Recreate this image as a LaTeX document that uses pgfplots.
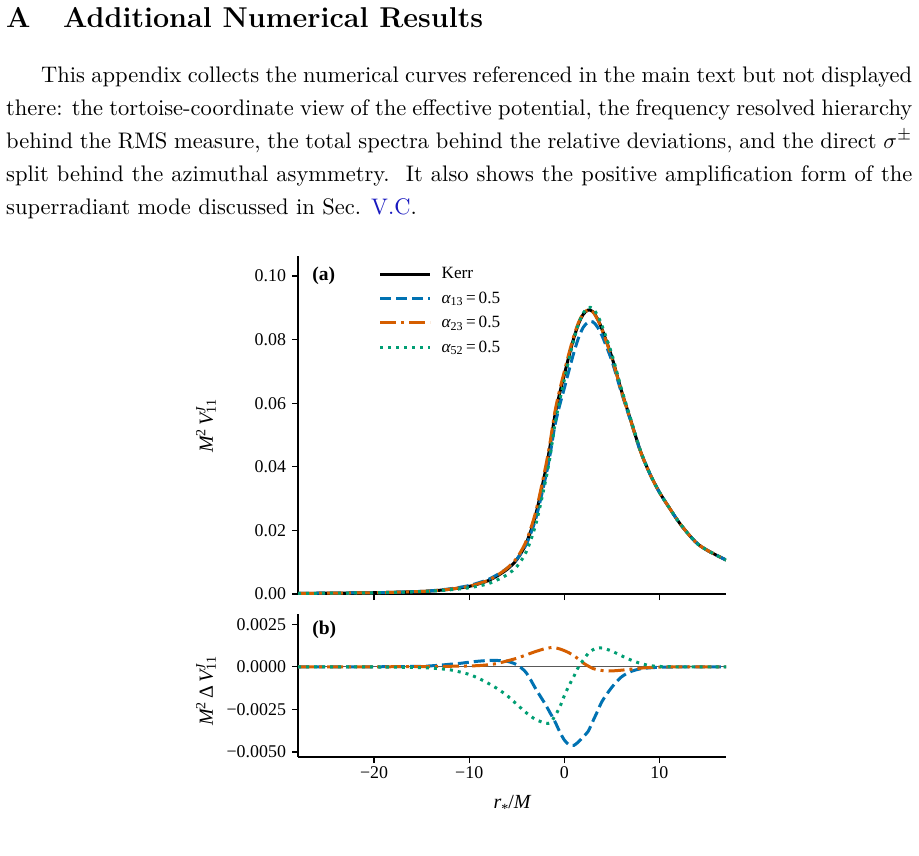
\documentclass[border=0pt]{standalone}
\usepackage{fontspec}
\usepackage{graphicx}
\usepackage{xcolor}
\usepackage{pgfplots}
\usepackage{pgfplotstable}
\pgfplotsset{compat=1.18}
\newfontfamily\tnr{Liberation Serif}
\definecolor{cbblue}{HTML}{0072B2}
\definecolor{cborange}{HTML}{D55E00}
\definecolor{cbgreen}{HTML}{009E73}
\definecolor{linkblue}{rgb}{0.1,0.1,0.75}

\pgfplotstableread{
x     kerr    a13      a23      a52
-28   0.0002  0.0002   0.0002   0.0002
-20   0.0004  0.0004   0.0004   0.00039
-15   0.0008  0.00083  0.00081  0.00075
-13   0.0012  0.0013   0.00122  0.00108
-12   0.0015  0.00165  0.00153  0.00132
-11   0.0019  0.0021   0.00194  0.0016
-10   0.0024  0.00267  0.00245  0.00195
-9    0.0032  0.00353  0.00327  0.00252
-8    0.0042  0.00457  0.00432  0.00323
-7    0.0058  0.00617  0.0060   0.0045
-6    0.0078  0.00812  0.00815  0.0061
-5    0.0108  0.01092  0.0113   0.0086
-4    0.0160  0.01565  0.0167   0.0133
-3    0.0250  0.0237   0.0259   0.0219
-2    0.0385  0.0363   0.03957  0.0352
-1.5  0.0465  0.0438   0.04762  0.0432
-1    0.0560  0.0528   0.05712  0.0531
-0.5  0.0630  0.0592   0.06405  0.0606
0     0.0690  0.0647   0.06995  0.0673
0.5   0.0750  0.07042  0.07582  0.0739
1     0.0805  0.07588  0.08115  0.07993
1.5   0.0850  0.0806   0.08545  0.0850
2     0.0880  0.0839   0.08822  0.0884
2.5   0.0893  0.0855   0.08935  0.09008
3     0.0888  0.0856   0.0887   0.0898
3.5   0.0865  0.0839   0.08633  0.0876
4     0.0830  0.0810   0.08278  0.0841
5     0.0745  0.0733   0.07426  0.07542
6     0.0640  0.0634   0.0638   0.06465
7     0.0545  0.05422  0.05436  0.0549
8     0.0450  0.04488  0.04492  0.0452
9     0.0378  0.03774  0.03776  0.03787
10    0.0320  0.03197  0.03198  0.03202
11    0.0273  0.02728  0.02729  0.02731
12    0.0228  0.02279  0.0228   0.0228
13    0.0190  0.0190   0.0190   0.0190
14    0.0158  0.0158   0.0158   0.0158
15    0.0138  0.0138   0.0138   0.0138
16    0.0122  0.0122   0.0122   0.0122
17    0.0107  0.0107   0.0107   0.0107
}\pot

\pgfplotstableread{
x     d13       d23       d52
-28   0         0         0
-20   0         0         -0.00001
-15   0.00003   0.00001   -0.00005
-13   0.0001    0.00002   -0.00012
-12   0.00015   0.00003   -0.00018
-11   0.0002    0.00004   -0.0003
-10   0.00027   0.00005   -0.00045
-9    0.00033   0.00007   -0.00068
-8    0.00037   0.00012   -0.00097
-7    0.00037   0.0002    -0.0013
-6    0.00032   0.00035   -0.0017
-5    0.00012   0.0005    -0.0022
-4    -0.00035  0.0007    -0.0027
-3    -0.0013   0.0009    -0.0031
-2    -0.0022   0.00107   -0.0033
-1.5  -0.0027   0.00112   -0.0033
-1    -0.0032   0.00112   -0.0029
-0.5  -0.0038   0.00105   -0.0024
0     -0.0043   0.00095   -0.0017
0.5   -0.00458  0.00082   -0.0011
1     -0.00462  0.00065   -0.00057
1.5   -0.0044   0.00045   0
2     -0.0041   0.00022   0.0004
2.5   -0.0038   0.00005   0.00078
3     -0.0032   -0.0001   0.001
3.5   -0.0026   -0.00017  0.0011
4     -0.0020   -0.00022  0.0011
5     -0.0012   -0.00024  0.00092
6     -0.0006   -0.0002   0.00065
7     -0.00028  -0.00014  0.0004
8     -0.00012  -0.00008  0.0002
9     -0.00006  -0.00004  0.00007
10    -0.00003  -0.00002  0.00002
11    -0.00002  -0.00001  0.00001
12    -0.00001  0         0
14    0         0         0
17    0         0         0
}\dev

\newcommand{\tickfont}{\tnr\fontsize{17.9}{20}\selectfont}
\newcommand{\legfont}{\tnr\fontsize{17.2}{20}\selectfont}
\newcommand{\labfont}{\tnr\fontsize{20}{22}\selectfont}

\pgfplotsset{
  myax/.style={
    scale only axis, width=428pt,
    xmin=-28, xmax=17,
    axis x line*=bottom, axis y line*=left,
    axis line style={line width=1.5pt, -},
    tick align=outside, major tick length=6pt,
    tick style={line width=1.3pt, black},
    tick label style={font=\tickfont},
    yticklabel style={xshift=-2.5pt},
    xtick={-20,-10,0,10},
    scaled y ticks=false,
  },
  kerr/.style={black, line width=3pt, smooth, tension=0.5},
  s13/.style={cbblue, line width=3pt, dash pattern=on 11pt off 5pt, smooth, tension=0.5},
  s23/.style={cborange, line width=3pt, dash pattern=on 16pt off 5pt on 3pt off 5pt, smooth, tension=0.5},
  s52/.style={cbgreen, line width=3pt, dash pattern=on 3pt off 5pt, smooth, tension=0.5},
}

\begin{document}
\begin{tikzpicture}
\path[use as bounding box] (0pt,0pt) rectangle (919pt,-855pt);

% Heading
\node[anchor=base west, inner sep=0pt] at (6pt,-27pt) {\scalebox{2.25}{\fontsize{12.75}{14}\selectfont\bfseries A}};
\node[anchor=base west, inner sep=0pt] at (63pt,-27pt) {\scalebox{2.25}{\fontsize{12.75}{14}\selectfont\bfseries Additional Numerical Results}};

% Paragraph
\node[anchor=base west, inner sep=0pt] at (41pt,-82pt) {\scalebox{2.25}{\fontsize{10}{12}\selectfont\makebox[387.1pt][s]{This appendix collects the numerical curves referenced in the main text but not displayed}}};
\node[anchor=base west, inner sep=0pt] at (6pt,-115pt) {\scalebox{2.25}{\fontsize{10}{12}\selectfont\makebox[402.7pt][s]{there: the tortoise-coordinate view of the effective potential, the frequency resolved hierarchy}}};
\node[anchor=base west, inner sep=0pt] at (6pt,-148pt) {\scalebox{2.25}{\fontsize{10}{12}\selectfont\makebox[402.7pt][s]{behind the RMS measure, the total spectra behind the relative deviations, and the direct $\sigma^\pm$}}};
\node[anchor=base west, inner sep=0pt] at (6pt,-181pt) {\scalebox{2.25}{\fontsize{10}{12}\selectfont\makebox[402.7pt][s]{split behind the azimuthal asymmetry.\ \ It also shows the positive amplification form of the}}};
\node[anchor=base west, inner sep=0pt] at (6pt,-214pt) {\scalebox{2.25}{\fontsize{10}{12}\selectfont superradiant mode discussed in Sec. \textcolor{linkblue}{V.C}.}};

% Panel (a)
\begin{axis}[myax,
  at={(298pt,-594pt)}, anchor=south west,
  height=338pt,
  ymin=0, ymax=0.1063,
  xticklabels={},
  ytick={0,0.02,0.04,0.06,0.08,0.10},
  yticklabels={0.00,0.02,0.04,0.06,0.08,0.10},
  legend style={draw=none, fill=none, at={(0.188,0.972)}, anchor=north west,
    font=\legfont, row sep=7.5pt, column sep=8pt, inner sep=0pt},
  legend cell align=left,
  legend image code/.code={\draw[#1] (0pt,0pt) -- (50pt,0pt);},
]
\addplot[kerr] table[x=x, y=kerr] {\pot};
\addlegendentry{Kerr}
\addplot[s13] table[x=x, y=a13] {\pot};
\addlegendentry{{\itshape α}\textsubscript{13}\,=\,0.5}
\addplot[s23] table[x=x, y=a23] {\pot};
\addlegendentry{{\itshape α}\textsubscript{23}\,=\,0.5}
\addplot[s52] table[x=x, y=a52] {\pot};
\addlegendentry{{\itshape α}\textsubscript{52}\,=\,0.5}
\node[anchor=west, inner sep=0pt, font=\tnr\fontsize{19.5}{22}\selectfont\bfseries] at (rel axis cs:0.033,0.941) {(a)};
\end{axis}

% Panel (b)
\begin{axis}[myax,
  at={(298pt,-757pt)}, anchor=south west,
  height=143pt,
  ymin=-0.0053, ymax=0.0031,
  xticklabels={−20,−10,0,10},
  ytick={-0.005,-0.0025,0,0.0025},
  yticklabels={−0.0050,−0.0025,0.0000,0.0025},
]
\addplot[black!65, line width=1pt] coordinates {(-28,0) (17,0)};
\addplot[s13] table[x=x, y=d13] {\dev};
\addplot[s23] table[x=x, y=d23] {\dev};
\addplot[s52] table[x=x, y=d52] {\dev};
\node[anchor=west, inner sep=0pt, font=\tnr\fontsize{19.5}{22}\selectfont\bfseries] at (rel axis cs:0.033,0.888) {(b)};
\end{axis}

% Axis labels
\node[rotate=90, inner sep=0pt, font=\labfont] at (206pt,-426pt)
  {{\itshape M}\textsuperscript{2}\,{\itshape V}\rlap{\textsuperscript{\itshape J}}\textsubscript{11}};
\node[rotate=90, inner sep=0pt, font=\labfont] at (206pt,-691pt)
  {{\itshape M}\textsuperscript{2}\,Δ\,{\itshape V}\rlap{\textsuperscript{\itshape J}}\textsubscript{11}};
\node[inner sep=0pt, font=\labfont] at (512pt,-804pt)
  {{\itshape r}\raisebox{-0.55ex}{\fontsize{14}{15}\selectfont *}/{\itshape M}};
\end{tikzpicture}
\end{document}
